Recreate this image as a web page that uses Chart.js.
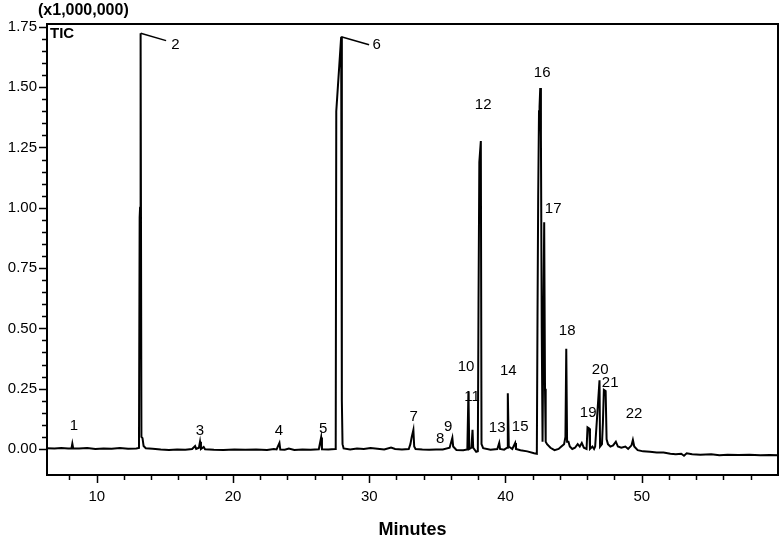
<!DOCTYPE html>
<html>
<head>
<meta charset="utf-8">
<title>TIC chromatogram</title>
<script src="https://cdn.jsdelivr.net/npm/chart.js@4.4.1/dist/chart.umd.min.js"></script>
<style>
  html, body { margin: 0; padding: 0; background: #fff; }
  #ticChart { display: block; }
</style>
</head>
<body>
<canvas id="ticChart" width="782" height="540"></canvas>
<script>
// retention time (min) and TIC intensity (x1,000,000)
const retentionTimes = [
    6.35, 6.9, 7.4, 7.9, 8.15, 8.21, 8.27, 8.7, 9.3, 9.9, 10.5, 11.1, 11.7, 12.3, 12.9,
    13.1, 13.15, 13.18, 13.22, 13.28, 13.36, 13.44, 13.6, 14.1, 14.7, 15.3, 15.9, 16.5,
    17.0, 17.22, 17.3, 17.5, 17.58, 17.65, 17.85, 17.95, 18.6, 19.3, 20.1, 20.9, 21.7,
    22.5, 23.0, 23.2, 23.41, 23.47, 23.8, 24.1, 24.5, 25.1, 25.7, 26.3, 26.47, 26.53,
    27.0, 27.5, 27.54, 27.58, 27.94, 27.99, 28.04, 28.12, 28.6, 29.1, 29.6, 30.1, 30.6,
    31.1, 31.6, 31.9, 32.4, 32.9, 33.02, 33.12, 33.24, 33.3, 33.4, 33.9, 34.4, 34.9,
    35.4, 35.9, 36.1, 36.16, 36.4, 36.9, 37.2, 37.28, 37.34, 37.5, 37.58, 37.63, 37.85,
    37.97, 38.02, 38.08, 38.19, 38.24, 38.36, 38.9, 39.4, 39.54, 39.6, 39.9, 40.12,
    40.17, 40.24, 40.5, 40.71, 40.77, 41.1, 41.6, 42.1, 42.3, 42.35, 42.4, 42.46, 42.5,
    42.55, 42.6, 42.66, 42.72, 42.78, 42.84, 42.9, 42.95, 43.05, 43.3, 43.6, 43.9, 44.1,
    44.3, 44.4, 44.46, 44.52, 44.62, 44.72, 44.9, 45.1, 45.3, 45.45, 45.6, 45.75, 45.95,
    46.02, 46.15, 46.2, 46.38, 46.5, 46.58, 46.9, 46.94, 47.08, 47.15, 47.22, 47.35,
    47.42, 47.52, 47.7, 47.9, 48.1, 48.25, 48.5, 48.8, 49.0, 49.25, 49.35, 49.45, 49.7,
    50.1, 50.6, 51.1, 51.6, 52.1, 52.5, 52.9, 53.1, 53.3, 53.7, 54.3, 55.1, 55.7, 56.3,
    57.1, 57.9, 58.7, 59.4, 60.0
];
const intensities = [
    0.003, 0.002, 0.004, 0.002, 0.003, 0.022, 0.003, 0.002, 0.004, 0.0, 0.002, 0.001, 0.004, 0.001, 0.002,
    0.004, 0.96, 1.0, 1.724, 0.05, 0.045, 0.012, 0.003, 0.001, -0.002, -0.004, -0.002, -0.003,
    0.0, 0.012, 0.0, 0.005, 0.03, 0.0, 0.008, -0.001, -0.003, -0.004, -0.002, -0.003, -0.002,
    -0.004, 0.0, -0.002, 0.025, -0.002, -0.003, 0.002, -0.004, -0.002, -0.003, -0.001, 0.048, -0.001,
    -0.002, 0.0, 0.02, 1.40, 1.709, 0.2, 0.02, 0.002, -0.002, 0.002, 0.0, 0.004, 0.001,
    -0.002, 0.006, 0.0, -0.002, 0.0, 0.02, 0.05, 0.079, 0.01, 0.0, -0.002, -0.003, -0.002,
    -0.002, 0.005, 0.046, 0.01, -0.004, -0.005, -0.002, 0.238, 0.0, 0.005, 0.079, 0.005, -0.012,
    -0.01, 0.6, 1.19, 1.277, 0.02, 0.003, -0.003, 0.0, 0.025, 0.0, -0.003, 0.005,
    0.231, 0.01, 0.0, 0.025, 0.0, -0.005, -0.01, -0.018, -0.02, 0.55, 1.05, 1.40, 1.42,
    1.497, 1.3, 0.5, 0.03, 0.5, 0.94, 0.25, 0.03, 0.02, 0.005, -0.005, 0.0, 0.01,
    0.02, 0.05, 0.415, 0.03, 0.03, 0.01, 0.0, 0.005, 0.02, 0.01, 0.025, 0.005, 0.0,
    0.09, 0.085, 0.0, 0.01, 0.0, 0.01, 0.285, 0.01, 0.02, 0.11, 0.245, 0.24,
    0.04, 0.02, 0.01, 0.015, 0.03, 0.01, 0.005, 0.01, 0.0, 0.015, 0.037, 0.01, -0.005,
    -0.01, -0.012, -0.015, -0.015, -0.02, -0.022, -0.02, -0.028, -0.018, -0.022, -0.024, -0.022, -0.026, -0.024,
    -0.025, -0.024, -0.026, -0.025, -0.026
];

const xTickValues = [10, 20, 30, 40, 50];
const xMinorTicks = [8, 12, 14, 16, 18, 22, 24, 26, 28, 32, 34, 36, 38, 42, 44, 46, 48, 52, 54, 56, 58];
const yTickValues = [0, 0.25, 0.5, 0.75, 1.0, 1.25, 1.5, 1.75];

// peak numbers and where their labels sit (in minutes / x1,000,000)
const peakLabels = ['1', '2', '3', '4', '5', '6', '7', '8', '9', '10', '11',
    '12', '13', '14', '15', '16', '17', '18', '19', '20', '21', '22'];
const peakLabelTimes = [8.33, 15.78, 17.58, 23.38, 26.61, 30.54, 33.27, 35.2, 35.79, 37.11, 37.55,
    38.36, 39.39, 40.2, 41.08, 42.69, 43.5, 44.53, 46.07, 46.95, 47.68, 49.44];
const peakLabelHeights = [0.097, 1.676, 0.075, 0.075, 0.083, 1.676, 0.133, 0.041, 0.091, 0.34, 0.216,
    1.427, 0.087, 0.324, 0.091, 1.56, 0.995, 0.489, 0.149, 0.328, 0.274, 0.145];
// leader lines from clipped peak tops to their labels: [t1, v1, t2, v2]
const leaderLines = [[13.23, 1.724, 15.09, 1.693], [27.94, 1.709, 29.99, 1.676]];

const FONT = "'Liberation Sans', Arial, Helvetica, sans-serif";

document.addEventListener('DOMContentLoaded', () => {

    const ticCtx = document.getElementById('ticChart');

    const chromAnnotations = {
        id: 'chromAnnotations',
        beforeDatasetsDraw(chart) {
            const ctx = chart.ctx;
            const x = chart.scales.x;
            const y = chart.scales.y;
            ctx.save();
            ctx.fillStyle = '#000';
            ctx.font = '15px ' + FONT;
            ctx.textAlign = 'center';
            ctx.textBaseline = 'middle';
            peakLabels.forEach((lbl, i) => {
                ctx.fillText(lbl, x.getPixelForValue(peakLabelTimes[i]), y.getPixelForValue(peakLabelHeights[i]));
            });
            ctx.strokeStyle = '#000';
            ctx.lineWidth = 1.5;
            leaderLines.forEach(l => {
                ctx.beginPath();
                ctx.moveTo(x.getPixelForValue(l[0]), y.getPixelForValue(l[1]));
                ctx.lineTo(x.getPixelForValue(l[2]), y.getPixelForValue(l[3]));
                ctx.stroke();
            });
            ctx.restore();
        },
        afterDraw(chart) {
            const ctx = chart.ctx;
            const area = chart.chartArea;
            const x = chart.scales.x;
            const y = chart.scales.y;
            ctx.save();
            ctx.strokeStyle = '#000';
            ctx.lineWidth = 2;
            ctx.strokeRect(area.left, area.top, area.right - area.left, area.bottom - area.top);

            ctx.lineWidth = 1.5;
            ctx.beginPath();
            xTickValues.forEach(v => {
                const px = Math.round(x.getPixelForValue(v)) + 0.5;
                ctx.moveTo(px, area.bottom);
                ctx.lineTo(px, area.bottom + 8);
            });
            xMinorTicks.forEach(v => {
                const px = Math.round(x.getPixelForValue(v)) + 0.5;
                ctx.moveTo(px, area.bottom);
                ctx.lineTo(px, area.bottom + 5);
            });
            for (let k = 0; k <= 35; k++) {
                const py = Math.round(y.getPixelForValue(k * 0.05)) + 0.5;
                const len = k % 5 === 0 ? 8 : 5;
                ctx.moveTo(area.left - len, py);
                ctx.lineTo(area.left, py);
            }
            ctx.stroke();

            ctx.fillStyle = '#000';
            ctx.textBaseline = 'middle';
            ctx.textAlign = 'left';
            ctx.font = 'bold 16px ' + FONT;
            ctx.fillText('(x1,000,000)', 38, 11);
            ctx.font = 'bold 15px ' + FONT;
            ctx.fillText('TIC', area.left + 3, area.top + 10);
            ctx.textAlign = 'center';
            ctx.font = 'bold 18px ' + FONT;
            ctx.fillText('Minutes', (area.left + area.right) / 2, 530);
            ctx.restore();
        }
    };

    if (ticCtx) {
        new Chart(ticCtx.getContext('2d'), {
            type: 'line',
            data: {
                datasets: [{
                    label: 'TIC',
                    data: retentionTimes.map((t, i) => ({ x: t, y: intensities[i] })),
                    borderColor: '#000',
                    borderWidth: 2,
                    pointRadius: 0,
                    tension: 0,
                    fill: false
                }]
            },
            options: {
                responsive: false,
                animation: false,
                layout: {
                    padding: { top: 24, right: 4, left: 0, bottom: 0 }
                },
                plugins: {
                    legend: { display: false },
                    tooltip: { enabled: false }
                },
                scales: {
                    x: {
                        type: 'linear',
                        min: 6.35,
                        max: 60,
                        grid: { display: false, drawTicks: false },
                        border: { display: false },
                        afterBuildTicks: s => { s.ticks = xTickValues.map(v => ({ value: v })); },
                        afterFit: s => { s.height = 65; },
                        ticks: {
                            padding: 13,
                            autoSkip: false,
                            maxRotation: 0,
                            color: '#000',
                            font: { family: FONT, size: 15 }
                        }
                    },
                    y: {
                        min: -0.108,
                        max: 1.762,
                        grid: { display: false, drawTicks: false },
                        border: { display: false },
                        afterBuildTicks: s => { s.ticks = yTickValues.map(v => ({ value: v })); },
                        afterFit: s => { s.width = 47; },
                        ticks: {
                            padding: 10,
                            autoSkip: false,
                            color: '#000',
                            font: { family: FONT, size: 15 },
                            callback: v => v.toFixed(2)
                        }
                    }
                }
            },
            plugins: [chromAnnotations]
        });
    }

});
</script>
</body>
</html>
